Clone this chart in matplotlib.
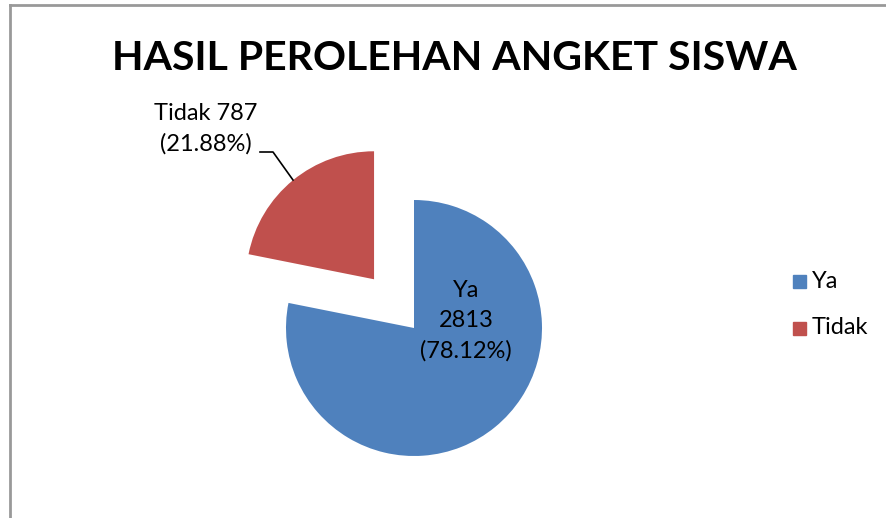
import matplotlib.pyplot as plt
from matplotlib.lines import Line2D

plt.rcParams['font.family'] = ['Lato', 'DejaVu Sans']

# data
labels = ["Ya", "Tidak"]
values = [2813, 787]
percents = ["78.12%", "21.88%"]
colors = ["#4F81BD", "#C0504D"]

W, H = 886, 518
fig = plt.figure(figsize=(W / 100, H / 100), dpi=100)
ax = fig.add_axes([0, 0, 1, 1])

# chart border (gray, open on right/bottom like the crop)
ax.add_line(Line2D([10, 10], [0, H - 5], color="#999999", lw=2))
ax.add_line(Line2D([10, W], [H - 5, H - 5], color="#999999", lw=2))

# explode is in data units (pixels here)
wedges, _ = ax.pie(values, colors=colors, startangle=90, counterclock=False,
                   center=(414, H - 328), radius=128, explode=[0, 63],
                   frame=True)
ax.set_xlim(0, W)
ax.set_ylim(0, H)
ax.set_aspect("equal")
ax.axis("off")

ax.text(454, H - 58, "HASIL PEROLEHAN ANGKET SISWA", ha="center", va="center",
        fontsize=29.5, fontweight="bold")

# data labels
ax.text(466, H - 321, f"{labels[0]}\n{values[0]}\n({percents[0]})", ha="center",
        va="center", fontsize=17, linespacing=1.52)
ax.text(206, H - 129, f"{labels[1]} {values[1]}\n({percents[1]})", ha="center",
        va="center", fontsize=17, linespacing=1.52)
ax.add_line(Line2D([260, 273, 293], [H - 152, H - 152, H - 180], color="black", lw=1.2))

# legend
for i, lab in enumerate(labels):
    y = H - (281 + i * 47)
    ax.add_patch(plt.Rectangle((793, y - 6.5), 13, 13, color=colors[i]))
    ax.text(812, y, lab, ha="left", va="center", fontsize=17)

fig.savefig("out.png", dpi=100)
